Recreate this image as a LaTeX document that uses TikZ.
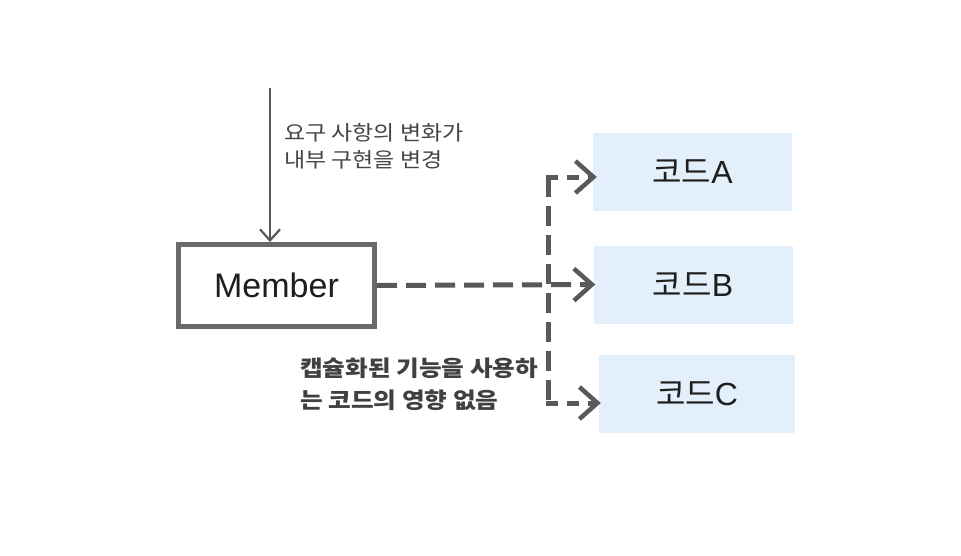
\documentclass[tikz,border=0pt]{standalone}
\usepackage{fontspec}
\setmainfont{Liberation Sans}
\newfontfamily\kr{Noto Sans CJK KR}
\newfontfamily\krw[FakeStretch=1.12]{Noto Sans CJK KR}
\usetikzlibrary{arrows.meta}
\definecolor{linegray}{HTML}{595959}
\definecolor{boxgray}{HTML}{6A6A6A}
\definecolor{codeblue}{HTML}{E4EFFC}
\definecolor{txtgray}{HTML}{444444}
\definecolor{txtdark}{HTML}{1E1E1E}
\tikzset{
  codebox/.style={fill=codeblue, minimum width=199pt, minimum height=78pt, inner sep=0pt, font=\fontsize{32}{38}\selectfont, text=txtdark},
  dashline/.style={line width=5pt, draw=linegray, dash pattern=on 20pt off 9pt},
  chev/.style={-{Straight Barb[length=18pt,width=32pt,line width=4.5pt]}},
}
\begin{document}
\begin{tikzpicture}[x=1pt,y=-1pt]
\useasboundingbox[fill=white] (0,0) rectangle (961,555);
\node[draw=boxgray, line width=5pt, minimum width=196pt, minimum height=82pt, inner sep=0pt, font=\fontsize{34}{40}\selectfont, text=txtdark] (member) at (276.5,285.5) {Member};
\node[codebox] (codeA) at (692.5,172) {{\kr 코드}A};
\node[codebox] (codeB) at (693,284.5) {{\kr 코드}B};
\node[codebox, minimum width=196pt] (codeC) at (697,394) {{\kr 코드}C};
\coordinate (top) at (270,88);
\draw[line width=2.2pt, draw=linegray, -{Straight Barb[length=11pt,width=20pt,line width=2.2pt]}] (top) -- (member.north -| top);
\node[anchor=west, align=left, text=txtgray, font=\krw\fontsize{20.5}{27}\selectfont, inner sep=0pt] (lbl1) at (284,146.5) {요구 사항의 변화가\\내부 구현을 변경};
\node[anchor=west, align=left, text=txtdark!85, font=\krw\bfseries\fontsize{22}{32}\selectfont, inner sep=0pt] (lbl2) at (300,384) {캡슐화된 기능을 사용하\\는 코드의 영향 없음};
\coordinate (jA) at (548,177);
\coordinate (jC) at (548,403);
\draw[dashline, chev] (member.east) -- ([xshift=2pt]codeB.west);
\draw[dashline, line cap=butt] (jA) -- (jC);
\draw[dashline, chev, dash pattern=on 12pt off 9pt] ([xshift=-2.5pt]jA) -- ([xshift=4pt]jA -| codeA.west);
\draw[dashline, chev, dash pattern=on 12pt off 9pt] ([xshift=-2.5pt]jC) -- ([xshift=2pt]jC -| codeC.west);
\end{tikzpicture}
\end{document}
